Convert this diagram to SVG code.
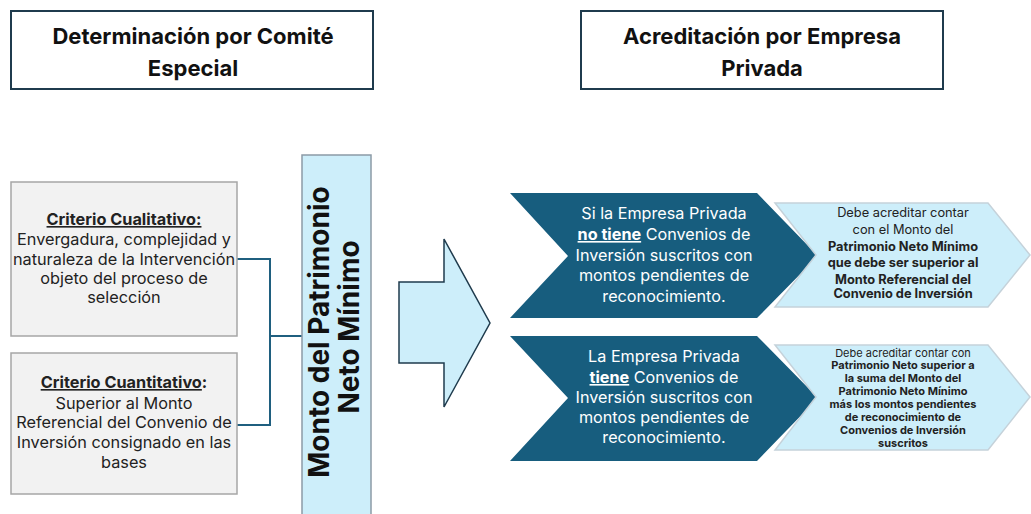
<svg xmlns="http://www.w3.org/2000/svg" width="1031" height="514" viewBox="0 0 1031 514">
<defs>
<style>
.hdr{fill:#ffffff;stroke:#1f3b4d;stroke-width:2}
.hdrt{font-family:Inter,"Liberation Sans",sans-serif;font-weight:700;font-size:22px;fill:#111;text-anchor:middle}
.crit{fill:#f2f2f2;stroke:#a6a6a6;stroke-width:1.5}
.critt{font-family:Inter,"Liberation Sans",sans-serif;font-size:16.3px;fill:#222;text-anchor:middle}
.bar{fill:#cdeefa;stroke:#8c9ba6;stroke-width:1.5}
.bart{font-family:Inter,"Liberation Sans",sans-serif;font-weight:700;font-size:28px;fill:#111;text-anchor:middle}
.dark{fill:#175d7e}
.darkt{font-family:Inter,"Liberation Sans",sans-serif;font-size:16.2px;fill:#ffffff;text-anchor:middle}
.light{fill:#cdeefa;stroke:#c5d2da;stroke-width:1.5}
.lt1{font-family:Inter,"Liberation Sans",sans-serif;font-size:12.8px;fill:#222;text-anchor:middle}
.lt2{font-family:Inter,"Liberation Sans",sans-serif;font-size:11px;fill:#222;text-anchor:middle}
.b{font-weight:700}
.u{text-decoration:underline}
.conn{fill:none;stroke:#1f5f7f;stroke-width:2}
.arrow{fill:#cdeefa;stroke:#1f3b4d;stroke-width:1.5}
</style>
</defs>
<rect width="1031" height="514" fill="#ffffff"/>

<g id="connectors">
<polyline class="conn" points="237,259 270,259 270,425 237,425"/>
<line class="conn" x1="270" y1="336" x2="302" y2="336"/>
</g>

<g id="header-comite">
<rect class="hdr" x="11" y="11" width="362" height="78"/>
<text class="hdrt" x="193" y="44">Determinación por Comité</text>
<text class="hdrt" x="193" y="76">Especial</text>
</g>

<g id="header-empresa">
<rect class="hdr" x="581" y="11" width="362" height="78"/>
<text class="hdrt" x="762" y="44">Acreditación por Empresa</text>
<text class="hdrt" x="762" y="76">Privada</text>
</g>

<g id="criterio-cualitativo">
<rect class="crit" x="11" y="182" width="226" height="154"/>
<text class="critt"><tspan x="124" y="225" class="b u">Criterio Cualitativo:</tspan><tspan x="124" y="245">Envergadura, complejidad y</tspan><tspan x="124" y="265">naturaleza de la Intervención</tspan><tspan x="124" y="284">objeto del proceso de</tspan><tspan x="124" y="303">selección</tspan></text>
</g>

<g id="criterio-cuantitativo">
<rect class="crit" x="11" y="353" width="226" height="141"/>
<text class="critt"><tspan x="124" y="388"><tspan class="b u">Criterio Cuantitativo</tspan><tspan class="b">:</tspan></tspan><tspan x="124" y="409">Superior al Monto</tspan><tspan x="124" y="428">Referencial del Convenio de</tspan><tspan x="124" y="448">Inversión consignado en las</tspan><tspan x="124" y="468">bases</tspan></text>
</g>

<g id="monto-bar">
<rect class="bar" x="302" y="155" width="69" height="370"/>
<text class="bart" transform="translate(329,332) rotate(-90)">Monto del Patrimonio</text>
<text class="bart" transform="translate(359,327) rotate(-90)">Neto Mínimo</text>
</g>

<g id="big-arrow">
<polygon class="arrow" points="399,282 444,282 444,239 490,323 444,407 444,363 399,363"/>
</g>

<g id="sin-convenios">
<polygon class="dark" points="510,193 757,193 818,256 757,318 510,318 568,256"/>
<text class="darkt"><tspan x="664" y="219">Si la Empresa Privada</tspan><tspan x="664" y="240"><tspan class="b u">no tiene</tspan> Convenios de</tspan><tspan x="664" y="261">Inversión suscritos con</tspan><tspan x="664" y="281">montos pendientes de</tspan><tspan x="664" y="302">reconocimiento.</tspan></text>
</g>

<g id="req-sin-convenios">
<polygon class="light" points="775,203 988,203 1030,255 988,307 775,307 816,255"/>
<text class="lt1"><tspan x="903" y="217">Debe acreditar contar</tspan><tspan x="903" y="234">con el Monto del</tspan><tspan x="903" y="251" class="b">Patrimonio Neto Mínimo</tspan><tspan x="903" y="267" class="b">que debe ser superior al</tspan><tspan x="903" y="284" class="b">Monto Referencial del</tspan><tspan x="903" y="298" class="b">Convenio de Inversión</tspan></text>
</g>

<g id="con-convenios">
<polygon class="dark" points="510,336 757,336 818,398 757,461 510,461 568,398"/>
<text class="darkt"><tspan x="664" y="362">La Empresa Privada</tspan><tspan x="664" y="383"><tspan class="b u">tiene</tspan> Convenios de</tspan><tspan x="664" y="403">Inversión suscritos con</tspan><tspan x="664" y="423">montos pendientes de</tspan><tspan x="664" y="443">reconocimiento.</tspan></text>
</g>

<g id="req-con-convenios">
<polygon class="light" points="775,345 988,345 1030,397 988,450 775,450 816,397"/>
<text class="lt2"><tspan x="903" y="357">Debe acreditar contar  con</tspan><tspan x="903" y="369" class="b">Patrimonio Neto superior a</tspan><tspan x="903" y="382" class="b">la suma del Monto del</tspan><tspan x="903" y="395" class="b">Patrimonio Neto Mínimo</tspan><tspan x="903" y="408" class="b">más los montos pendientes</tspan><tspan x="903" y="421" class="b">de reconocimiento de</tspan><tspan x="903" y="434" class="b">Convenios de Inversión</tspan><tspan x="903" y="447" class="b">suscritos</tspan></text>
</g>
</svg>
